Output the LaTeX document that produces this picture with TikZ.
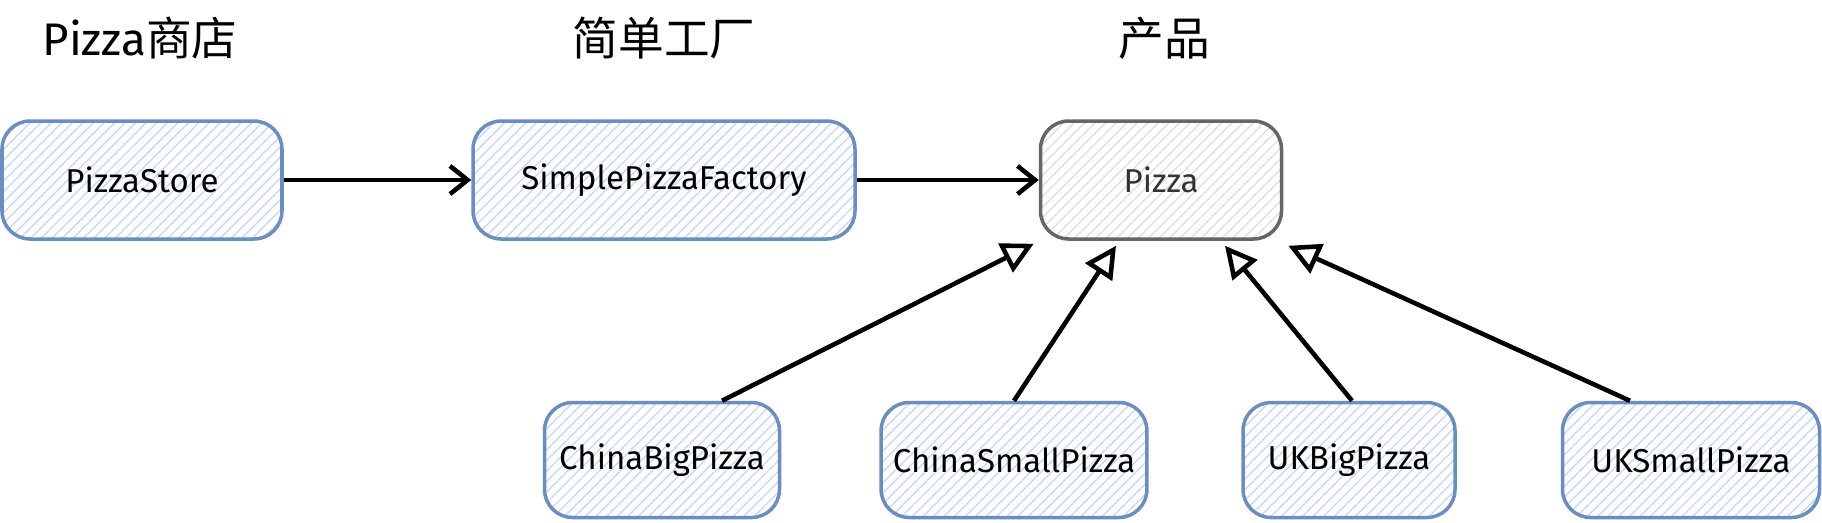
\documentclass[tikz,border=0pt]{standalone}
\usepackage{fontspec}
\setmainfont{Fira Sans}
\newfontfamily\cjk{Noto Sans CJK SC}
\usepackage{xcolor}
\usetikzlibrary{patterns}
\usetikzlibrary{arrows.meta}
\definecolor{boxblue}{HTML}{6C8EBF}
\definecolor{hatchblue}{HTML}{C9DAF2}
\definecolor{boxgray}{HTML}{666666}
\tikzset{cls/.style={draw=boxblue, line width=1pt, rounded corners=8pt,
   pattern=north east lines, pattern color=hatchblue,
   minimum height=1.18cm, font=\fontsize{9.4}{11}\selectfont},
 prod/.style={cls, draw=boxgray, pattern color=black!12, text=black!80},
 title/.style={font=\fontsize{13}{15}\selectfont},
 uses/.style={-{Straight Barb[length=5pt,width=8pt]}, line width=1.3pt},
 isa/.style={-{Triangle[open,length=9pt,width=9pt]}, line width=1.3pt},
 }

\begin{document}
\begin{tikzpicture}
        \useasboundingbox (0,0) rectangle (18.22,-5.22);
        % titles
        \node[title] (t1) at (1.40, -.38) {Pizza{\cjk 商店}};
        \node[title] (t2) at (6.64, -.38) {\cjk 简单工厂};
        \node[title] (t3) at (11.64, -.38) {\cjk 产品};
        % top row
        \node[cls, minimum width=2.8cm] (store) at (1.42, -1.80) {PizzaStore};
        \node[cls, minimum width=3.82cm] (factory) at (6.64, -1.80) {SimplePizzaFactory};
        \node[prod, minimum width=2.41cm] (pizza) at (11.61, -1.80) {Pizza};
        % subclasses
        \node[cls, minimum width=2.35cm, minimum height=1.15cm] (cbig) at (6.62, -4.60) {ChinaBigPizza};
        \node[cls, minimum width=2.65cm, minimum height=1.15cm] (csmall) at (10.14, -4.60) {ChinaSmallPizza};
        \node[cls, minimum width=2.12cm, minimum height=1.15cm] (ukbig) at (13.49, -4.60) {UKBigPizza};
        \node[cls, minimum width=2.57cm, minimum height=1.15cm] (uksmall) at (16.91, -4.60) {UKSmallPizza};
        % connectors
        \draw[uses] (store) -- (factory);
        \draw[uses] (factory) -- (pizza);
        \draw[isa] (cbig.north) ++(.6,0) -- ([xshift=-.05cm,yshift=-.03cm]pizza.south west);
        \draw[isa] (csmall.north) -- ([xshift=-.45cm,yshift=-.05cm]pizza.south);
        \draw[isa] (ukbig.north) ++(.03,0) -- ([xshift=.64cm,yshift=-.05cm]pizza.south);
        \draw[isa] (uksmall.north) ++(-.61,0) -- ([xshift=.05cm,yshift=-.05cm]pizza.south east);
    \end{tikzpicture}
\end{document}
